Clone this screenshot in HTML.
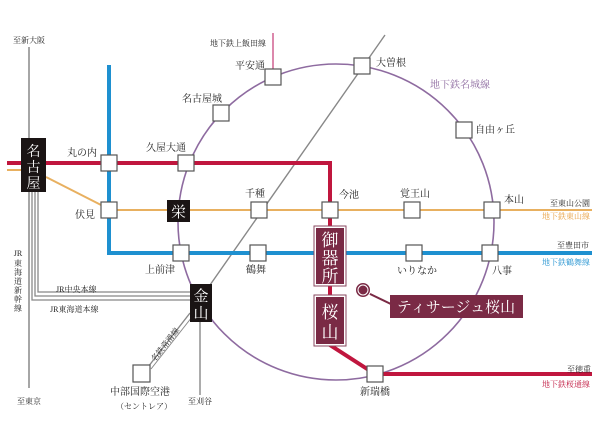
<!DOCTYPE html>
<html><head><meta charset="utf-8"><style>
html,body{margin:0;padding:0;background:#fff;}
svg{display:block;font-family:"Liberation Serif","Noto Serif CJK SC","Noto Sans CJK JP",serif;}
</style></head><body>
<svg width="600" height="443" viewBox="0 0 600 443" xmlns="http://www.w3.org/2000/svg">
<rect width="600" height="443" fill="#fff"/>
<circle cx="336" cy="222" r="158" fill="none" stroke="#8e6ba0" stroke-width="1.6"/>
<line x1="273" y1="33" x2="273" y2="77" stroke="#d06090" stroke-width="1.5"/>
<line x1="29" y1="47" x2="29" y2="388" stroke="#888" stroke-width="1.5"/>
<polyline points="32,192 32,300 190,300" fill="none" stroke="#888" stroke-width="1.3"/>
<polyline points="35,192 35,296 190,296" fill="none" stroke="#888" stroke-width="1.3"/>
<polyline points="38,192 38,292 190,292" fill="none" stroke="#888" stroke-width="1.3"/>
<line x1="385" y1="35" x2="210" y2="285" stroke="#888" stroke-width="1.4"/>
<line x1="200" y1="322" x2="200" y2="395" stroke="#888" stroke-width="1.4"/>
<line x1="190" y1="313" x2="148" y2="367" stroke="#888" stroke-width="1.4"/>
<line x1="192" y1="317" x2="151" y2="369" stroke="#888" stroke-width="1"/>
<line x1="7" y1="170" x2="21" y2="170" stroke="#e8b060" stroke-width="2"/>
<line x1="46" y1="177" x2="105" y2="207" stroke="#e8b060" stroke-width="2"/>
<line x1="109" y1="210" x2="592" y2="210" stroke="#e8b060" stroke-width="2"/>
<polyline points="109,65 109,253 592,253" fill="none" stroke="#1e90d0" stroke-width="4"/>
<polyline points="7,163 330,163 330,345 375,374 592,374" fill="none" stroke="#c0163e" stroke-width="4"/>
<g fill="#fff" stroke="#555" stroke-width="1.2">
<rect x="265" y="69" width="16" height="16"/>
<rect x="213" y="105" width="16" height="16"/>
<rect x="178" y="155" width="16" height="16"/>
<rect x="101" y="155" width="16" height="16"/>
<rect x="101" y="202" width="16" height="16"/>
<rect x="251" y="202" width="16" height="16"/>
<rect x="322" y="202" width="16" height="16"/>
<rect x="404" y="202" width="16" height="16"/>
<rect x="484" y="202" width="16" height="16"/>
<rect x="173" y="245" width="16" height="16"/>
<rect x="250" y="245" width="16" height="16"/>
<rect x="406" y="245" width="16" height="16"/>
<rect x="482" y="245" width="16" height="16"/>
<rect x="354" y="58" width="16" height="16"/>
<rect x="456" y="122" width="16" height="16"/>
<rect x="367" y="366" width="16" height="16"/>
<rect x="133" y="365" width="17" height="17"/>
</g>
<rect x="21" y="138" width="25" height="54" fill="#1a1414"/>
<text x="33.5" y="156" font-size="14" fill="#fff" text-anchor="middle">名</text>
<text x="33.5" y="172" font-size="14" fill="#fff" text-anchor="middle">古</text>
<text x="33.5" y="188" font-size="14" fill="#fff" text-anchor="middle">屋</text>
<rect x="167" y="200" width="23" height="22" fill="#1a1414"/>
<text x="178.5" y="217" font-size="15" fill="#fff" text-anchor="middle">栄</text>
<rect x="190" y="284" width="22" height="38" fill="#1a1414"/>
<text x="201" y="301" font-size="15" fill="#fff" text-anchor="middle">金</text>
<text x="201" y="318" font-size="15" fill="#fff" text-anchor="middle">山</text>
<rect x="314" y="226" width="32" height="60" fill="#fff" stroke="#8a4a60" stroke-width="1"/>
<rect x="316" y="228" width="28" height="56" fill="#7a2a45"/>
<text x="330" y="246" font-size="17" fill="#fff" text-anchor="middle">御</text>
<text x="330" y="264" font-size="17" fill="#fff" text-anchor="middle">器</text>
<text x="330" y="282" font-size="17" fill="#fff" text-anchor="middle">所</text>
<rect x="314" y="295" width="32" height="51" fill="#fff" stroke="#8a4a60" stroke-width="1"/>
<rect x="316" y="297" width="28" height="47" fill="#7a2a45"/>
<text x="330" y="318" font-size="17" fill="#fff" text-anchor="middle">桜</text>
<text x="330" y="338" font-size="17" fill="#fff" text-anchor="middle">山</text>
<line x1="366" y1="292" x2="395" y2="306" stroke="#7a2a45" stroke-width="2"/>
<circle cx="363" cy="290" r="7.5" fill="#7a2a45" stroke="#fff" stroke-width="1"/>
<circle cx="363" cy="290" r="5" fill="#7a2a45" stroke="#fff" stroke-width="1"/>
<rect x="390" y="295" width="133" height="23" fill="#7a2a45"/>
<text x="456" y="312" font-size="15" fill="#fff" text-anchor="middle">ティサージュ桜山</text>
<g font-size="10" fill="#222">
<text x="13" y="43" font-size="8">至新大阪</text>
<text x="210" y="46" font-size="8">地下鉄上飯田線</text>
<text x="235" y="69">平安通</text>
<text x="182" y="102">名古屋城</text>
<text x="146" y="151">久屋大通</text>
<text x="67" y="156">丸の内</text>
<text x="75" y="218">伏見</text>
<text x="245" y="197">千種</text>
<text x="339" y="198">今池</text>
<text x="400" y="197">覚王山</text>
<text x="504" y="203">本山</text>
<text x="376" y="66">大曽根</text>
<text x="430" y="88" fill="#8e6ba0">地下鉄名城線</text>
<text x="475" y="133">自由ヶ丘</text>
<text x="145" y="273">上前津</text>
<text x="246" y="273">鶴舞</text>
<text x="397" y="274">いりなか</text>
<text x="492" y="274">八事</text>
<text x="360" y="395">新瑞橋</text>
<text x="110" y="395">中部国際空港</text>
<text x="116" y="409" font-size="8">（セントレア）</text>
<text x="56" y="292" font-size="8">JR中央本線</text>
<text x="50" y="312" font-size="8">JR東海道本線</text>
<text x="17" y="404" font-size="8">至東京</text>
<text x="188" y="404" font-size="8">至刈谷</text>
<text x="550" y="206" font-size="8">至東山公園</text>
<text x="542" y="219" font-size="8" fill="#e8a040">地下鉄東山線</text>
<text x="557" y="248" font-size="8">至豊田市</text>
<text x="542" y="265" font-size="8" fill="#1e90d0">地下鉄鶴舞線</text>
<text x="567" y="372" font-size="8">至徳重</text>
<text x="542" y="387" font-size="8" fill="#c0163e">地下鉄桜通線</text>
<text x="0" y="0" font-size="8" transform="translate(155,362) rotate(-52)">名鉄常滑線</text>
</g>
<g font-size="8" fill="#222" text-anchor="middle">
<text x="18" y="256">JR</text>
<text x="18" y="266">東</text>
<text x="18" y="275">海</text>
<text x="18" y="284">道</text>
<text x="18" y="293">新</text>
<text x="18" y="302">幹</text>
<text x="18" y="311">線</text>
</g>
</svg>
</body></html>
